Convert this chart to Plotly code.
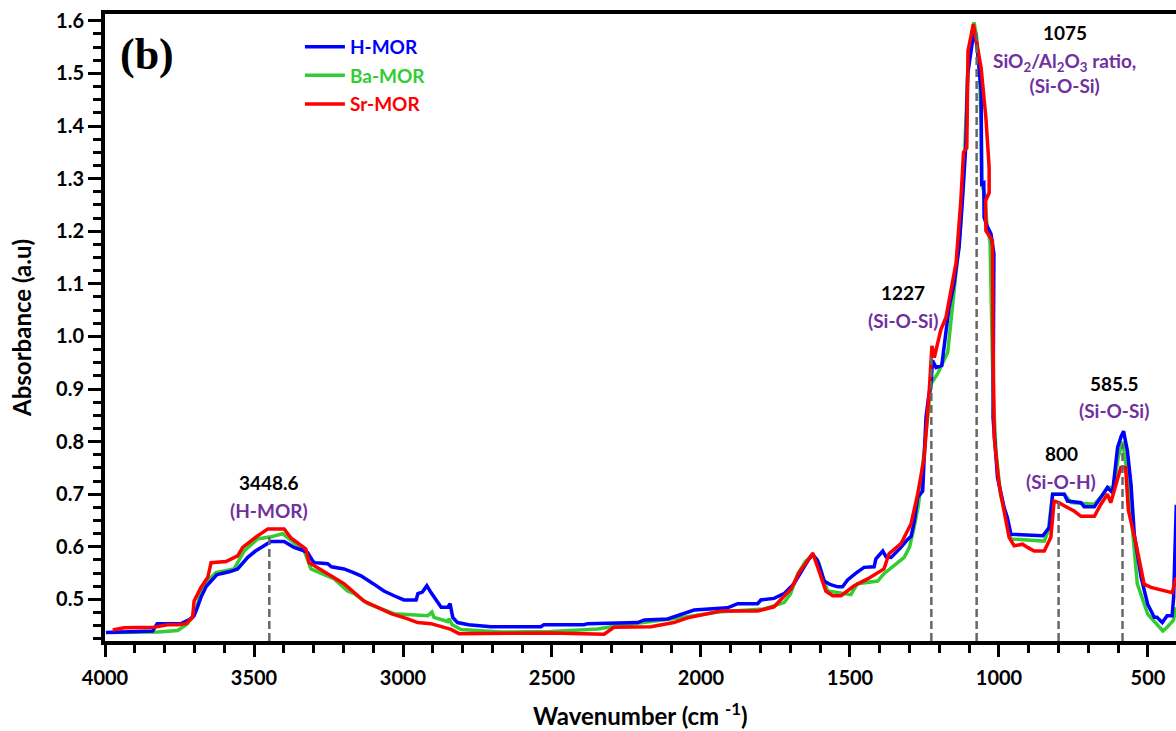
import plotly.graph_objects as go

# ---------------- data ----------------
h_wn = [3997, 3913, 3840, 3825, 3745, 3715, 3701, 3690, 3678, 3660, 3644, 3625, 3611, 3580, 3555, 3535,
        3521, 3495, 3466, 3443, 3399, 3380, 3366, 3340, 3320, 3305, 3298, 3270, 3253, 3240, 3198, 3170,
        3141, 3100, 3064, 3030, 2997, 2956, 2950, 2935, 2920, 2906, 2890, 2872, 2850, 2842, 2833, 2817,
        2780, 2705, 2537, 2527, 2393, 2380, 2212, 2190, 2112, 2078, 2023, 1911, 1877, 1810, 1799, 1755,
        1721, 1688, 1664, 1640, 1625, 1610, 1597, 1587, 1565, 1541, 1525, 1508, 1480, 1453, 1419, 1413,
        1390, 1379, 1362, 1340, 1329, 1310, 1295, 1284, 1273, 1256, 1245, 1235, 1228, 1223, 1211, 1192,
        1185, 1168, 1151, 1134, 1122, 1111, 1105, 1095, 1088, 1080, 1072, 1060, 1058, 1051, 1050, 1040,
        1027, 1017, 1020, 1005, 990, 983, 972, 960, 926, 853, 831, 820, 781, 770, 725, 714, 680, 658,
        636, 619, 602, 590, 582, 569, 557, 546, 523, 501, 479, 470, 452, 436, 419, 414, 405]
h_ab = [0.437, 0.438, 0.440, 0.454, 0.454, 0.462, 0.469, 0.485, 0.504, 0.525, 0.535, 0.547, 0.549, 0.553,
        0.558, 0.570, 0.580, 0.592, 0.602, 0.610, 0.610, 0.604, 0.599, 0.594, 0.589, 0.575, 0.570, 0.569,
        0.568, 0.562, 0.558, 0.552, 0.545, 0.530, 0.516, 0.507, 0.499, 0.499, 0.511, 0.514, 0.526, 0.513,
        0.500, 0.485, 0.485, 0.492, 0.466, 0.456, 0.452, 0.448, 0.448, 0.452, 0.452, 0.454, 0.456, 0.461,
        0.463, 0.469, 0.480, 0.484, 0.492, 0.492, 0.499, 0.502, 0.511, 0.530, 0.554, 0.575, 0.585, 0.575,
        0.554, 0.535, 0.528, 0.524, 0.524, 0.537, 0.550, 0.561, 0.562, 0.577, 0.592, 0.581, 0.580, 0.592,
        0.599, 0.612, 0.620, 0.649, 0.694, 0.706, 0.846, 0.890, 0.910, 0.954, 0.941, 0.945, 0.980, 1.054,
        1.100, 1.169, 1.264, 1.366, 1.499, 1.540, 1.565, 1.575, 1.543, 1.467, 1.290, 1.292, 1.226, 1.210,
        1.195, 1.157, 0.846, 0.732, 0.690, 0.675, 0.656, 0.624, 0.623, 0.621, 0.637, 0.700, 0.700, 0.687,
        0.684, 0.676, 0.676, 0.694, 0.713, 0.703, 0.789, 0.810, 0.820, 0.782, 0.719, 0.624, 0.542, 0.491,
        0.466, 0.466, 0.456, 0.469, 0.469, 0.504, 0.680]

ba_wn = [3980, 3823, 3756, 3723, 3695, 3678, 3644, 3628, 3567, 3533, 3488, 3443, 3404, 3387, 3331, 3309,
         3231, 3186, 3164, 3118, 3030, 2917, 2903, 2896, 2850, 2845, 2835, 2805, 2671, 2503, 2347, 2280,
         2057, 1944, 1788, 1721, 1700, 1675, 1650, 1625, 1605, 1592, 1575, 1497, 1475, 1407, 1386, 1318,
         1300, 1285, 1270, 1251, 1228, 1205, 1172, 1150, 1130, 1115, 1105, 1090, 1084, 1075, 1065, 1060,
         1058, 1048, 1040, 1030, 1020, 1010, 995, 972, 960, 848, 835, 820, 781, 758, 680, 650, 636, 615,
         600, 585, 570, 550, 536, 501, 470, 450, 436, 415, 405]
ba_ab = [0.437, 0.438, 0.441, 0.454, 0.478, 0.516, 0.542, 0.551, 0.558, 0.592, 0.615, 0.619, 0.625, 0.617,
         0.592, 0.558, 0.539, 0.516, 0.511, 0.492, 0.473, 0.469, 0.476, 0.466, 0.458, 0.463, 0.452, 0.443,
         0.438, 0.439, 0.444, 0.450, 0.466, 0.476, 0.482, 0.494, 0.510, 0.549, 0.572, 0.585, 0.570, 0.545,
         0.516, 0.509, 0.530, 0.535, 0.549, 0.580, 0.600, 0.637, 0.680, 0.782, 0.910, 0.930, 0.970, 1.090,
         1.200, 1.350, 1.500, 1.580, 1.597, 1.570, 1.500, 1.400, 1.290, 1.270, 1.210, 1.180, 0.900, 0.780,
         0.700, 0.644, 0.615, 0.611, 0.630, 0.700, 0.700, 0.684, 0.681, 0.700, 0.713, 0.713, 0.770, 0.800,
         0.740, 0.620, 0.530, 0.472, 0.452, 0.440, 0.447, 0.460, 0.485]

sr_wn = [3974, 3936, 3836, 3790, 3756, 3728, 3706, 3701, 3678, 3655, 3644, 3594, 3555, 3538, 3488, 3454,
         3399, 3376, 3326, 3315, 3253, 3198, 3131, 3040, 2984, 2951, 2906, 2839, 2812, 2503, 2325, 2292,
         2168, 2091, 2045, 1966, 1933, 1810, 1755, 1698, 1671, 1638, 1625, 1604, 1581, 1558, 1530, 1486,
         1441, 1386, 1369, 1329, 1295, 1273, 1251, 1234, 1225, 1217, 1195, 1178, 1161, 1144, 1128, 1119,
         1108, 1104, 1086, 1078, 1060, 1044, 1033, 1033, 1045, 1044, 1022, 1020, 1016, 1000, 977, 966,
         949, 921, 904, 882, 848, 826, 815, 799, 781, 748, 725, 680, 658, 636, 625, 614, 591, 575, 566,
         540, 513, 490, 419, 405]
sr_ab = [0.442, 0.446, 0.447, 0.452, 0.452, 0.454, 0.466, 0.497, 0.523, 0.542, 0.570, 0.572, 0.583, 0.599,
         0.621, 0.634, 0.634, 0.617, 0.596, 0.570, 0.549, 0.530, 0.497, 0.473, 0.463, 0.456, 0.454, 0.443,
         0.435, 0.436, 0.434, 0.447, 0.448, 0.456, 0.465, 0.473, 0.478, 0.478, 0.486, 0.520, 0.551, 0.577,
         0.588, 0.554, 0.516, 0.507, 0.507, 0.526, 0.539, 0.558, 0.587, 0.606, 0.644, 0.700, 0.770, 0.897,
         0.982, 0.960, 1.013, 1.036, 1.087, 1.140, 1.258, 1.350, 1.359, 1.543, 1.594, 1.571, 1.511, 1.416,
         1.321, 1.273, 1.258, 1.201, 1.182, 1.000, 0.808, 0.719, 0.656, 0.618, 0.602, 0.605, 0.599, 0.592,
         0.592, 0.618, 0.687, 0.684, 0.678, 0.668, 0.658, 0.658, 0.681, 0.700, 0.684, 0.706, 0.751, 0.751,
         0.670, 0.605, 0.529, 0.523, 0.513, 0.542]

series_names = ["H-MOR", "Ba-MOR", "Sr-MOR"]
series_colors = ["#0000FF", "#33CC33", "#FF0000"]

peak_wn = [3448.6, 1227, 1075, 800, 585.5]
peak_top = [0.625, 0.965, 1.58, 0.686, 0.795]
peak_labels = ["3448.6", "1227", "1075", "800", "585.5"]
peak_assign = ["(H-MOR)", "(Si-O-Si)", "SiO<sub>2</sub>/Al<sub>2</sub>O<sub>3</sub> ratio,<br>(Si-O-Si)",
               "(Si-O-H)", "(Si-O-Si)"]
# label anchor (wavenumber, absorbance) for each peak's text
label_wn = [3450, 1323, 779, 791, 613]
label_ab = [0.722, 1.083, 1.578, 0.777, 0.911]

x_ticks = [4000, 3500, 3000, 2500, 2000, 1500, 1000, 500]
y_ticks = [0.5, 0.6, 0.7, 0.8, 0.9, 1.0, 1.1, 1.2, 1.3, 1.4, 1.5, 1.6]

PURPLE = "#7030A0"
FONT = "Lato, 'Open Sans', sans-serif"

fig = go.Figure()
xs = [h_wn, ba_wn, sr_wn]
ys = [h_ab, ba_ab, sr_ab]
draw_order = [1, 0, 2]
for i in draw_order:
    fig.add_trace(go.Scatter(
        x=xs[i], y=ys[i], mode="lines",
        line=dict(color=series_colors[i], width=3.5),
        name=f"<span style='color:{series_colors[i]}'>{series_names[i]}</span>",
        legendrank=i + 1, legendgroup=series_names[i],
    ))

# dashed peak markers
for w, top in zip(peak_wn, peak_top):
    fig.add_shape(type="line", xref="x", yref="y", x0=w, x1=w, y0=0.421, y1=top,
                  line=dict(color="#666666", width=2.5, dash="8px,4px"))

# peak labels
for w, lab, asg, lw, la in zip(peak_wn, peak_labels, peak_assign, label_wn, label_ab):
    fig.add_annotation(x=lw, y=la, xref="x", yref="y", text=lab, showarrow=False,
                       font=dict(family=FONT, size=19, color="black", weight="bold"),
                       xanchor="center", yanchor="middle")
    fig.add_annotation(x=lw, y=la - 0.027, xref="x", yref="y", text=asg, showarrow=False,
                       font=dict(family=FONT, size=19, color=PURPLE, weight="bold"),
                       xanchor="center", yanchor="top")

fig.add_annotation(x=0.012, y=0.935, xref="paper", yref="paper", text="<b>(b)</b>", showarrow=False,
                   font=dict(family="'Liberation Serif', 'Times New Roman', serif", size=44, color="black"),
                   xanchor="left", yanchor="middle")

# x-axis title as an annotation centred below the tick labels
fig.add_annotation(x=0.5, y=-0.117, xref="paper", yref="paper",
                   text="<b>Wavenumber (cm <sup>-1</sup>)</b>", showarrow=False,
                   font=dict(family=FONT, size=24, color="black"), xanchor="center", yanchor="middle")

fig.update_layout(
    width=1176, height=731,
    margin=dict(l=105, r=0, t=14, b=90),
    paper_bgcolor="white", plot_bgcolor="white",
    showlegend=True,
    legend=dict(x=0.182, y=0.978, xanchor="left", yanchor="top", bgcolor="rgba(0,0,0,0)",
                font=dict(family=FONT, size=19, weight="bold"), tracegroupgap=1, itemwidth=40),
    xaxis=dict(
        range=[4000, 406], showgrid=False, zeroline=False, automargin=False,
        showline=True, linecolor="black", linewidth=4, mirror=True,
        ticks="outside", ticklen=12, tickwidth=3, tickcolor="black",
        tickvals=x_ticks, ticktext=[str(v) for v in x_ticks], ticklabelstandoff=4,
        tickfont=dict(family=FONT, size=20, color="black", weight="bold"),
        minor=dict(dtick=100, ticks="outside", ticklen=8, tickwidth=3, tickcolor="black", showgrid=False),
    ),
    yaxis=dict(
        range=[0.421, 1.613], showgrid=False, zeroline=False, automargin=False,
        showline=True, linecolor="black", linewidth=4, mirror=False,
        ticks="outside", ticklen=13, tickwidth=3, tickcolor="black",
        tickvals=y_ticks, ticktext=[f"{v:.1f}" for v in y_ticks],
        tickfont=dict(family=FONT, size=20, color="black", weight="bold"),
        minor=dict(dtick=0.025, tick0=0.5, ticks="outside", ticklen=8, tickwidth=3, tickcolor="black",
                   showgrid=False),
        title=dict(text="<b>Absorbance (a.u)</b>", font=dict(family=FONT, size=24, color="black"), standoff=19),
    ),
)

fig.write_html("out.html")
